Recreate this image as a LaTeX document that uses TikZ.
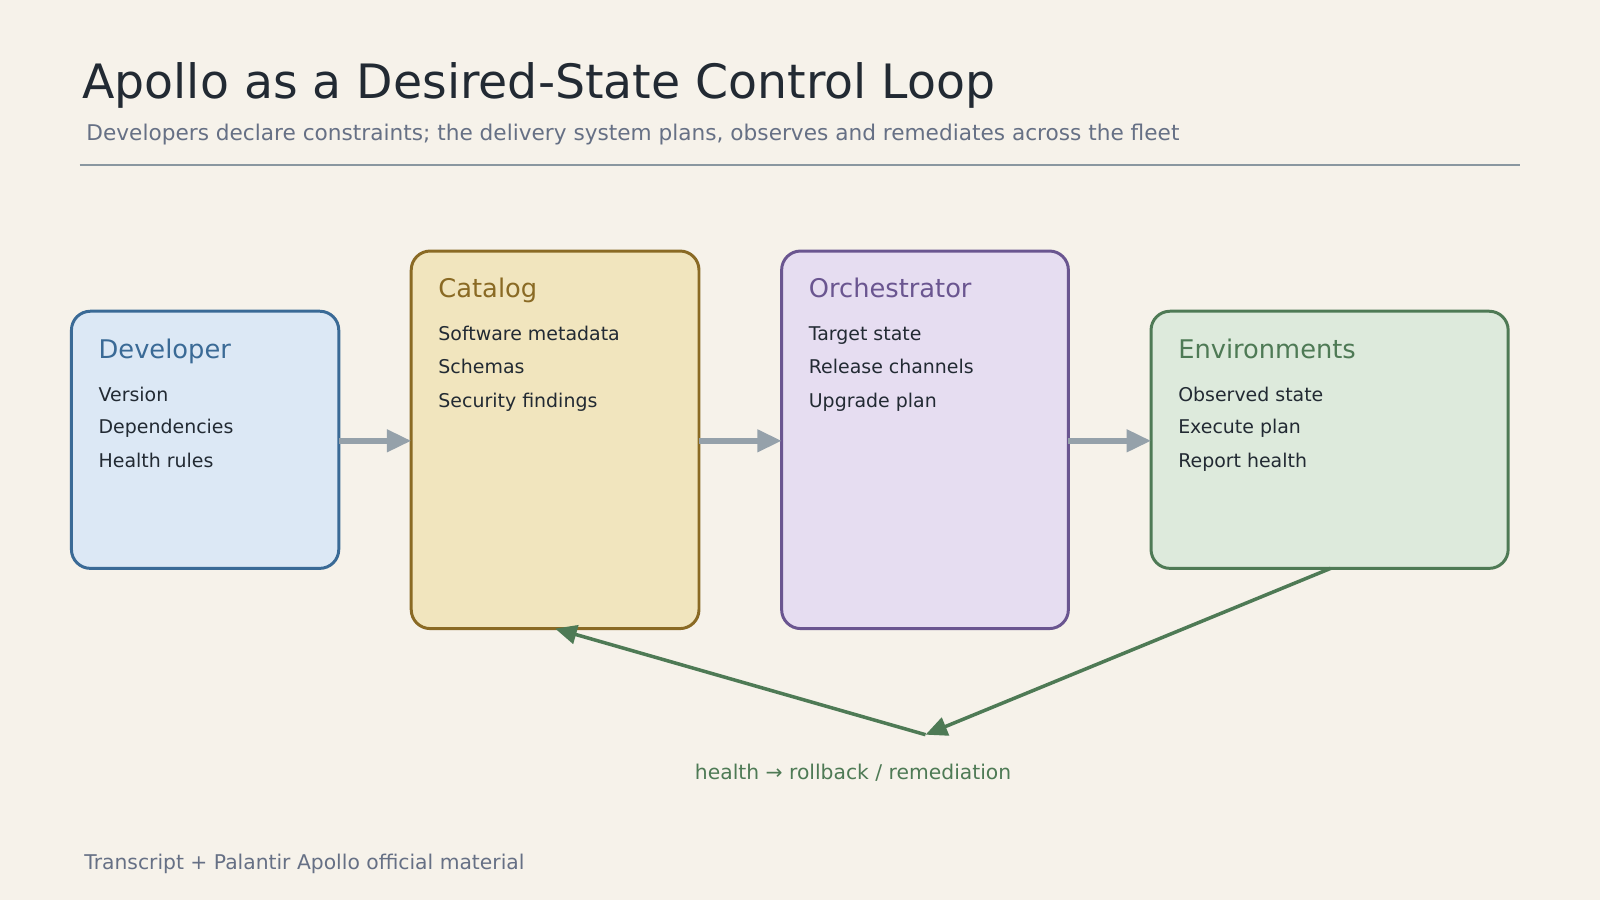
\documentclass[tikz,border=0pt]{standalone}
\usepackage{fontspec}
\setmainfont{DejaVu Sans}
\usetikzlibrary{arrows.meta, positioning}
\definecolor{bgc}{HTML}{F6F2EA}
\definecolor{ink}{HTML}{222A33}
\definecolor{muted}{HTML}{667085}
\definecolor{rulec}{HTML}{8A97A0}
\definecolor{flowc}{HTML}{95A1AA}
\definecolor{devline}{HTML}{3A6A96}\definecolor{devfill}{HTML}{DCE8F5}
\definecolor{catline}{HTML}{8A6A24}\definecolor{catfill}{HTML}{F1E5BE}
\definecolor{orcline}{HTML}{6A5590}\definecolor{orcfill}{HTML}{E6DDF1}
\definecolor{envline}{HTML}{4E7A55}\definecolor{envfill}{HTML}{DDEADC}

\begin{document}
\begin{tikzpicture}[
    x=0.0265cm, y=-0.0265cm,
    box/.style={draw, line width=2.2pt, rounded corners=14pt},
    head/.style={anchor=base west, font=\fontsize{19}{22}\selectfont},
    item/.style={anchor=base west, text=ink, font=\fontsize{14}{16}\selectfont},
    flow/.style={-{Triangle[length=18pt,width=16pt]}, line width=4pt, flowc},
    back/.style={-{Triangle[length=16pt,width=14pt]}, line width=2.6pt, envline}
]
\fill[bgc] (0,0) rectangle (1568,882);

% heading
\node[anchor=base west, text=ink, font=\fontsize{35}{40}\selectfont] (title) at (76,97) {Apollo as a Desired-State Control Loop};
\node[anchor=base west, text=muted, font=\fontsize{16}{19}\selectfont] (sub) at (80,138) {Developers declare constraints; the delivery system plans, observes and remediates across the fleet};
\draw[rulec, line width=1.2pt] (78,162) -- (1490,162);

% boxes
\draw[box, devline, fill=devfill] (70,305) rectangle (332,557);
\path (70,305) rectangle (332,557) node[pos=.5] (dev) {};
\coordinate (dev-e) at (332,432);
\node[head, text=devline] (devt) at (92,351) {Developer};
\node[item] (dev1) at (92,393) {Version};
\node[item] (dev2) at (92,425) {Dependencies};
\node[item] (dev3) at (92,458) {Health rules};

\draw[box, catline, fill=catfill] (403,246) rectangle (685,616);
\coordinate (cat-w) at (403,432);
\coordinate (cat-e) at (685,432);
\coordinate (cat-s) at (544,616);
\node[head, text=catline] (catt) at (425,292) {Catalog};
\node[item] (cat1) at (425,334) {Software metadata};
\node[item] (cat2) at (425,366) {Schemas};
\node[item] (cat3) at (425,399) {Security findings};

\draw[box, orcline, fill=orcfill] (766,246) rectangle (1047,616);
\coordinate (orc-w) at (766,432);
\coordinate (orc-e) at (1047,432);
\node[head, text=orcline] (orct) at (788,292) {Orchestrator};
\node[item] (orc1) at (788,334) {Target state};
\node[item] (orc2) at (788,366) {Release channels};
\node[item] (orc3) at (788,399) {Upgrade plan};

\draw[box, envline, fill=envfill] (1128,305) rectangle (1478,557);
\coordinate (env-w) at (1128,432);
\coordinate (env-s) at (1304,557);
\node[head, text=envline] (envt) at (1150,351) {Environments};
\node[item] (env1) at (1150,393) {Observed state};
\node[item] (env2) at (1150,425) {Execute plan};
\node[item] (env3) at (1150,458) {Report health};

% forward flow
\draw[flow] (dev-e) -- (cat-w);
\draw[flow] (cat-e) -- (orc-w);
\draw[flow] (orc-e) -- (env-w);

% feedback
\coordinate (fb) at (907,720);
\draw[back] (env-s) -- (fb);
\draw[back] (fb) -- (cat-s);
\node[text=envline, font=\fontsize{15}{18}\selectfont] (fbl) at (836,757) {health → rollback / remediation};

\node[anchor=base west, text=muted, font=\fontsize{15}{18}\selectfont] (foot) at (78,852) {Transcript + Palantir Apollo official material};
\end{tikzpicture}
\end{document}
